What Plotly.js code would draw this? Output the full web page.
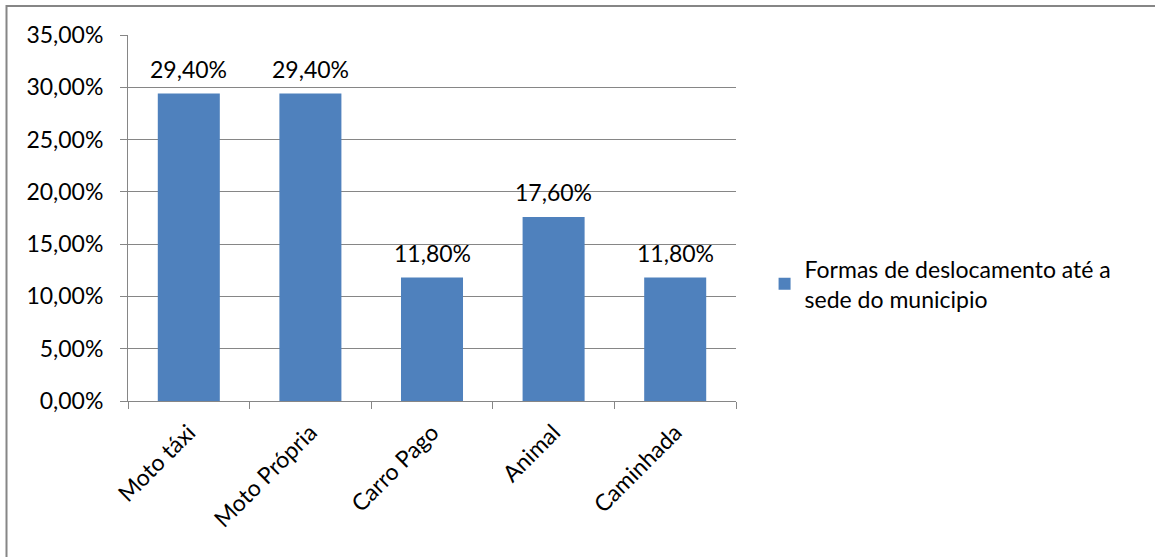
<!DOCTYPE html>
<html>
<head>
<meta charset="utf-8">
<script src="https://cdn.plot.ly/plotly-3.0.1.min.js"></script>
<style>html,body{margin:0;padding:0;background:#fff;}#chart{width:1155px;height:557px;}</style>
</head>
<body>
<div id="chart"></div>
<script>
const categories = ["Moto táxi", "Moto Própria", "Carro Pago", "Animal", "Caminhada"];
const values = [0.294, 0.294, 0.118, 0.176, 0.118];
const seriesName = "Formas de deslocamento até a<br>sede do municipio";
const yTicks = [0, 0.05, 0.10, 0.15, 0.20, 0.25, 0.30, 0.35];

const FONT = "Lato, 'Open Sans', sans-serif";
const FS = 23;

const trace = {
  type: "bar",
  x: categories,
  y: values,
  name: seriesName,
  marker: {color: "#4F81BD"},
  width: 0.51,
  showlegend: true,
  hoverinfo: "none"
};

const annotations = categories.map((c, i) => ({
  x: c, y: values[i], xref: "x", yref: "y",
  text: (values[i] * 100).toFixed(2).replace(".", ",") + "%",
  showarrow: false, yanchor: "bottom", yshift: 9,
  font: {family: FONT, size: FS, color: "#000"}
}));

const layout = {
  width: 1155, height: 557,
  margin: {l: 128, r: 419, t: 35, b: 156},
  paper_bgcolor: "#fff", plot_bgcolor: "#fff",
  separators: ",.",
  font: {family: FONT, size: FS, color: "#000"},
  showlegend: true,
  legend: {x: 1.047, y: 0.32, xanchor: "left", yanchor: "middle",
           font: {family: FONT, size: FS, color: "#000"}, bgcolor: "rgba(0,0,0,0)",
           itemwidth: 30, tracegroupgap: 0},
  xaxis: {type: "category", range: [-0.5, 4.5], tickangle: -45,
          showline: true, linecolor: "#868686", linewidth: 1,
          ticks: "outside", tickson: "boundaries", ticklen: 7, tickcolor: "#868686",
          ticklabelstandoff: 8,
          showgrid: false, zeroline: false,
          tickfont: {family: FONT, size: FS, color: "#000"}, fixedrange: true},
  yaxis: {range: [0, 0.35], tickvals: yTicks, tickformat: ".2%",
          showline: true, linecolor: "#868686", linewidth: 1,
          ticks: "outside", ticklen: 7, tickcolor: "#868686",
          ticklabelstandoff: 12,
          showgrid: true, gridcolor: "#868686", gridwidth: 1, zeroline: false,
          tickfont: {family: FONT, size: FS, color: "#000"}, fixedrange: true},
  annotations: annotations,
  shapes: [{type: "rect", xref: "paper", yref: "paper",
            x0: (6.5 - 128) / 608, x1: (1170 - 128) / 608,
            y0: (401 - 580) / 366, y1: (401 - 6) / 366,
            line: {color: "#868686", width: 2}, fillcolor: "rgba(0,0,0,0)", layer: "below"}]
};

Plotly.newPlot("chart", [trace], layout, {displayModeBar: false, staticPlot: true});
</script>
</body>
</html>
